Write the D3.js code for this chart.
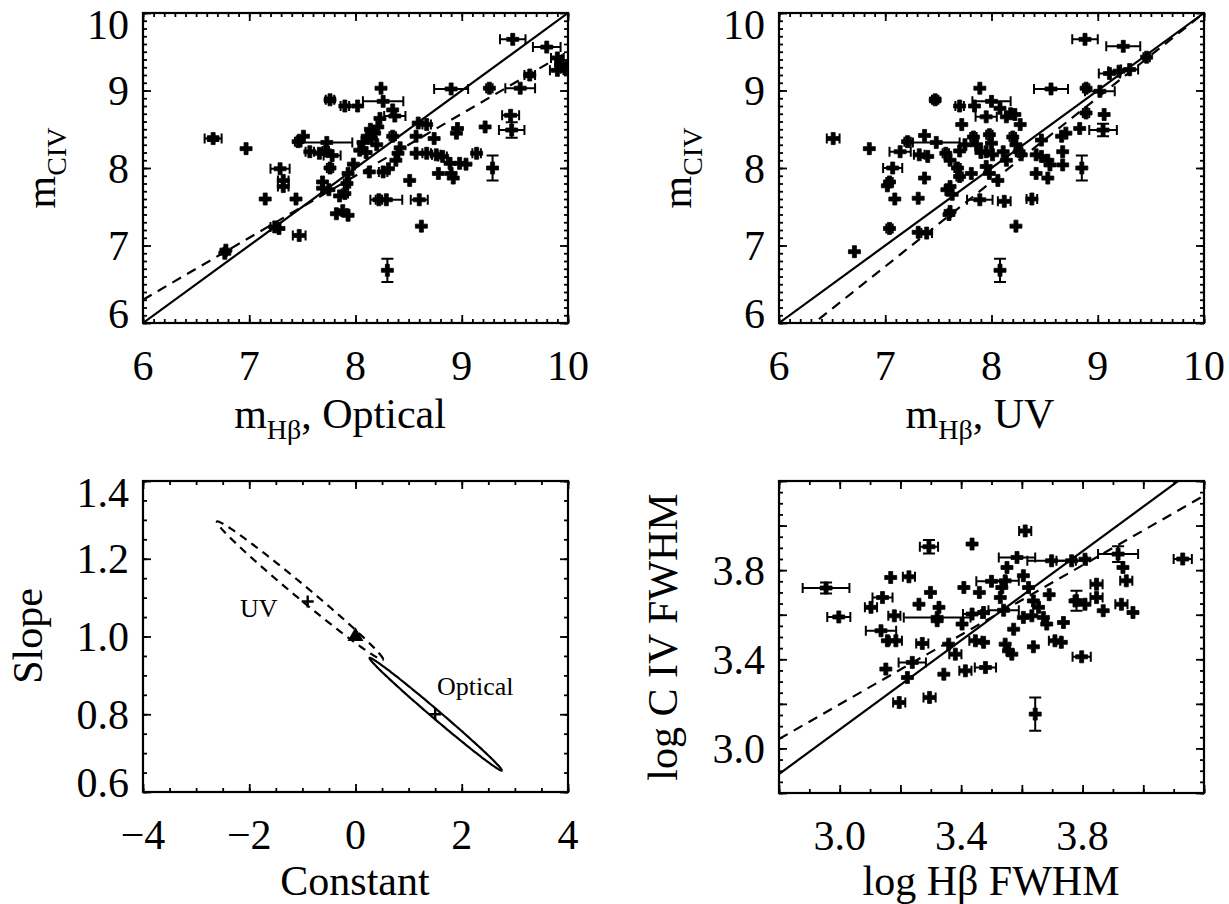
<!DOCTYPE html>
<html>
<head>
<meta charset="utf-8">
<script src="https://cdn.jsdelivr.net/npm/d3@7"></script>
<style>
  body { margin: 0; background: #fff; }
  text { font-family: "Liberation Serif", "Times New Roman", serif; fill: #000; }
</style>
</head>
<body>
<svg id="fig" width="1229" height="904"></svg>
<script>
// ---- data ----
// [x, y, xerr, yerr]
var opticalPts = [
  [9.48,9.66,0.12,0],[9.8,9.56,0.13,0],[9.64,9.2,0.05,0.03],[9.9,9.42,0.06,0],[9.93,9.33,0.05,0],
  [9.9,9.26,0.07,0],[9.97,9.28,0.04,0],[8.24,9.03,0,0],[7.76,8.88,0.04,0.03],[7.9,8.8,0.04,0],
  [8.02,8.8,0,0],[8.26,8.86,0.19,0],[8.35,8.75,0,0],[8.37,8.67,0.1,0],[8.23,8.64,0,0],
  [8.21,8.53,0,0],[8.59,8.58,0,0],[8.67,8.56,0.04,0],[8.9,9.02,0.16,0],[9.26,9.03,0.03,0],
  [9.55,9.03,0.14,0],[9.46,8.68,0.08,0],[9.22,8.53,0,0],[9.47,8.49,0.12,0.1],[8.95,8.45,0,0],
  [8.96,8.51,0,0],[8.74,8.38,0,0],[8.57,8.41,0,0],[8.35,8.41,0.03,0],[8.15,8.38,0,0],
  [8.2,8.3,0,0],[8.1,8.2,0,0],[7.51,8.41,0,0],[7.46,8.34,0.03,0],[7.73,8.33,0.24,0],
  [6.66,8.38,0.08,0.03],[6.97,8.25,0,0],[7.57,8.21,0.04,0],[7.66,8.19,0,0],[7.72,8.22,0.03,0],
  [7.78,8.16,0.08,0],[7.76,8.0,0.03,0],[7.29,7.99,0.09,0],[7.32,7.84,0.05,0],[7.32,7.76,0.05,0],
  [7.15,7.6,0,0],[7.44,7.6,0,0],[7.69,7.82,0,0],[7.69,7.74,0,0],[7.93,7.93,0,0],
  [7.92,7.8,0.03,0],[7.9,7.67,0.03,0],[7.85,7.64,0,0],[7.82,7.41,0,0],[7.93,7.39,0,0],
  [7.88,7.45,0,0],[7.24,7.24,0.04,0],[7.28,7.22,0,0],[7.47,7.13,0.06,0],[6.78,6.94,0,0],
  [6.77,6.9,0,0],[8.3,6.68,0,0.15],[8.62,7.25,0,0],[8.29,7.59,0.15,0],[8.22,7.59,0.03,0],
  [8.6,7.59,0.08,0],[8.51,7.84,0,0],[8.13,7.95,0,0],[8.26,7.95,0.04,0],[8.31,7.99,0,0],
  [8.38,8.1,0,0],[8.4,8.19,0,0],[8.42,8.26,0,0],[8.57,8.19,0,0],[8.67,8.19,0.04,0],
  [8.76,8.17,0.04,0],[8.82,8.15,0.04,0],[8.89,8.06,0,0],[8.98,8.06,0,0],[9.04,8.05,0,0],
  [9.14,8.19,0.04,0],[8.78,7.93,0,0],[8.92,7.87,0,0],[8.9,7.93,0,0],[9.29,8.0,0,0.16],
  [8.04,8.23,0,0],[8.07,8.33,0,0],[8.11,8.41,0,0],[8.14,8.5,0,0],[8.18,8.45,0,0],
  [7.98,8.05,0,0],[7.75,7.72,0,0]
];
var uvPts = [
  [8.88,9.66,0.12,0],[9.24,9.57,0.16,0],[7.89,9.03,0,0],[7.47,8.88,0.03,0.03],[7.7,8.8,0.04,0],
  [7.84,8.8,0,0],[8.0,8.86,0.18,0],[8.08,8.77,0,0],[8.14,8.66,0,0],[8.18,8.7,0,0],
  [7.95,8.66,0.1,0],[8.22,8.69,0,0],[8.27,8.56,0,0],[7.72,8.56,0,0],[8.56,9.02,0.16,0],
  [8.89,9.03,0.03,0],[9.11,9.22,0.1,0],[9.2,9.25,0.1,0],[9.3,9.27,0.08,0],[9.46,9.43,0.03,0],
  [9.02,8.99,0.14,0],[8.89,8.71,0.03,0],[9.06,8.69,0,0],[9.05,8.49,0.13,0.08],[8.83,8.51,0,0],
  [8.7,8.45,0,0],[8.66,8.41,0,0],[8.47,8.36,0,0],[8.67,8.21,0,0],[8.67,8.04,0,0],
  [8.85,8.0,0,0.16],[8.42,8.17,0,0],[8.47,8.15,0,0],[8.53,8.1,0,0],[8.55,8.04,0,0],
  [8.42,7.93,0,0],[8.53,7.87,0,0],[8.38,7.6,0.05,0],[8.23,7.25,0,0],[8.08,6.68,0,0.15],
  [7.89,7.59,0.12,0],[8.12,7.57,0.06,0],[8.06,7.84,0,0],[7.95,8.02,0,0],[7.98,7.93,0,0],
  [7.81,7.93,0,0],[7.68,8.0,0.03,0],[7.7,7.89,0.03,0],[7.61,7.76,0,0],[7.58,7.72,0,0],
  [7.63,7.66,0,0],[7.61,7.44,0,0],[7.6,7.4,0,0],[7.39,7.16,0.05,0],[7.31,7.17,0,0],
  [7.04,7.22,0.03,0],[6.71,6.92,0,0],[6.51,8.38,0.06,0],[6.85,8.25,0,0],[7.07,8.0,0.09,0],
  [7.04,7.82,0.03,0],[7.02,7.77,0,0],[7.09,7.6,0,0],[7.31,7.61,0,0],[7.37,7.87,0,0],
  [7.21,8.34,0.03,0],[7.37,8.42,0,0],[7.48,8.33,0.22,0],[7.14,8.21,0.1,0],[7.32,8.17,0.05,0],
  [7.4,8.15,0,0],[7.57,8.19,0.03,0],[7.61,8.1,0,0],[7.83,8.4,0.03,0],[7.86,8.3,0,0],
  [7.9,8.2,0,0],[7.98,8.43,0.03,0],[8.0,8.32,0,0],[7.95,8.21,0,0],[8.01,8.17,0,0],
  [8.11,8.21,0,0],[8.14,8.1,0,0],[8.2,8.4,0.03,0],[8.23,8.3,0,0],[8.26,8.21,0.03,0],
  [8.28,8.17,0,0],[7.75,8.3,0,0],[7.7,8.22,0,0]
];
var fwhmPts = [
  [2.955,3.72,0.077,0.025],[2.997,3.59,0.038,0],[3.294,3.905,0.03,0.03],[3.168,3.767,0,0],[3.228,3.77,0.02,0],
  [3.141,3.677,0.033,0],[3.103,3.633,0.02,0],[3.136,3.528,0.05,0],[3.185,3.483,0.02,0],[3.157,3.483,0,0],
  [3.18,3.595,0.02,0],[3.321,3.588,0.11,0],[3.261,3.647,0,0],[3.299,3.7,0,0],[3.327,3.633,0,0],
  [3.321,3.573,0,0],[3.272,3.471,0.02,0],[3.152,3.356,0,0],[3.239,3.386,0.045,0],[3.223,3.318,0,0],
  [3.196,3.206,0.02,0],[3.296,3.229,0.02,0],[3.343,3.333,0,0],[3.414,3.348,0.02,0],[3.48,3.363,0.035,0],
  [3.409,3.722,0,0],[3.436,3.917,0,0],[3.611,3.976,0.02,0],[3.584,3.857,0.06,0],[3.551,3.812,0,0],
  [3.545,3.752,0.045,0],[3.605,3.775,0,0],[3.622,3.722,0,0],[3.698,3.842,0.08,0],[3.764,3.842,0.05,0],
  [3.808,3.849,0,0],[3.78,3.663,0,0.045],[3.917,3.872,0.066,0.035],[3.933,3.812,0,0],[3.944,3.752,0.02,0],
  [3.846,3.737,0.02,0],[3.846,3.677,0.02,0],[3.808,3.647,0,0],[3.775,3.662,0,0],[3.868,3.618,0,0],
  [3.928,3.647,0.02,0],[3.966,3.61,0,0],[3.737,3.565,0,0],[3.709,3.483,0.02,0],[3.73,3.476,0,0],
  [3.797,3.411,0.03,0],[3.638,3.456,0,0],[3.573,3.535,0,0],[3.605,3.588,0,0],[3.633,3.595,0,0],
  [3.671,3.588,0,0],[3.682,3.558,0,0],[3.638,3.662,0,0],[3.655,3.633,0,0],[3.69,3.69,0,0],
  [3.545,3.468,0,0],[3.556,3.438,0,0],[3.567,3.423,0,0],[3.644,3.154,0,0.075],[3.381,3.423,0.02,0],
  [3.359,3.468,0,0],[3.403,3.558,0,0],[3.436,3.603,0.03,0],[3.474,3.61,0,0],[3.447,3.483,0.02,0],
  [3.474,3.476,0,0],[3.534,3.722,0,0],[3.529,3.677,0,0],[3.5,3.75,0.05,0],[3.46,3.7,0,0],
  [3.54,3.62,0.05,0],[4.13,3.85,0.03,0]
];

// fits: [intercept, slope]
var oneToOne = [0, 1];
var opticalFit = [1.5, 0.8];
var uvFit = [-0.9, 1.09];
var fwhmSolid = [0.085, 1.0];
var fwhmDashed = [0.858, 0.78];

// confidence ellipses in (constant, slope): [c0, m0, sigC, sigM, rho]
var opticalEllipse = [1.51, 0.80, 1.245, 0.145, -0.995];
var uvEllipse = [-1.045, 1.118, 1.565, 0.178, -0.992];
var bestPts = [[-0.9, 1.09, "UV"], [1.5, 0.8, "Optical"]];
var refPoint = [0, 1.0];

// tick labels
var massTicks = [6, 7, 8, 9, 10];
var constTicks = [-4, -2, 0, 2, 4];
var slopeTicks = [0.6, 0.8, 1.0, 1.2, 1.4];
var fwhmTicks = [3.0, 3.4, 3.8];

var svg = d3.select("#fig");
var clipN = 0;

function steps(a, b, s) {
  return d3.range(0, Math.round((b - a) / s) + 1).map(function (i) { return +(a + i * s).toFixed(4); });
}

function makePanel(box, cfg) {
  var x = d3.scaleLinear().domain(cfg.xDomain).range([box.x0, box.x1]);
  var y = d3.scaleLinear().domain(cfg.yDomain).range([box.y1, box.y0]);
  var g = svg.append("g");
  var id = "clip" + (clipN++);
  g.append("clipPath").attr("id", id).append("rect")
    .attr("x", box.x0).attr("y", box.y0)
    .attr("width", box.x1 - box.x0).attr("height", box.y1 - box.y0);
  var plot = g.append("g").attr("clip-path", "url(#" + id + ")");

  // ticks on all four sides, pointing inward
  var sides = [
    [d3.axisBottom(x), "translate(0," + box.y1 + ")", cfg.xMajor, cfg.xMinor],
    [d3.axisTop(x), "translate(0," + box.y0 + ")", cfg.xMajor, cfg.xMinor],
    [d3.axisLeft(y), "translate(" + box.x0 + ",0)", cfg.yMajor, cfg.yMinor],
    [d3.axisRight(y), "translate(" + box.x1 + ",0)", cfg.yMajor, cfg.yMinor]
  ];
  sides.forEach(function (s) {
    [[s[3], -4], [s[2], -8]].forEach(function (t) {
      var ax = g.append("g").attr("transform", s[1])
        .call(s[0].tickValues(t[0]).tickSize(t[1]).tickFormat(""));
      ax.select(".domain").remove();
      ax.selectAll("line").attr("stroke-width", 1.8);
    });
  });
  g.append("rect")
    .attr("x", box.x0).attr("y", box.y0)
    .attr("width", box.x1 - box.x0).attr("height", box.y1 - box.y0)
    .attr("fill", "none").attr("stroke", "#000").attr("stroke-width", 2.2);

  // tick labels
  g.selectAll(null).data(cfg.xLabels).enter().append("text")
    .attr("x", function (d) { return x(d); })
    .attr("y", box.y1 + 57)
    .attr("text-anchor", "middle").attr("font-size", 42)
    .text(cfg.xFmt);
  g.selectAll(null).data(cfg.yLabels).enter().append("text")
    .attr("x", box.x0 - 14)
    .attr("y", function (d) {
      return Math.max(box.y0 + 11, Math.min(box.y1 - 10, y(d)));
    })
    .attr("dy", "0.35em")
    .attr("text-anchor", "end").attr("font-size", 42)
    .text(cfg.yFmt);

  return { x: x, y: y, g: g, plot: plot, box: box };
}

function title(parent, px, py, rot, parts) {
  var t = parent.append("text")
    .attr("transform", "translate(" + px + "," + py + ")" + (rot ? " rotate(-90)" : ""))
    .attr("text-anchor", "middle").attr("font-size", 42);
  var low = false;
  parts.forEach(function (p) {
    var sp = t.append("tspan").text(p[0]);
    if (p[1] && !low) { sp.attr("font-size", 28).attr("dy", 11); low = true; }
    else if (!p[1] && low) { sp.attr("dy", -11); low = false; }
  });
}

function fitLine(P, fit, dashed) {
  var xs = P.x.domain();
  P.plot.append("line")
    .attr("x1", P.x(xs[0])).attr("y1", P.y(fit[0] + fit[1] * xs[0]))
    .attr("x2", P.x(xs[1])).attr("y2", P.y(fit[0] + fit[1] * xs[1]))
    .attr("stroke", "#000").attr("stroke-width", 2.2)
    .attr("stroke-dasharray", dashed ? "10,7" : null);
}

function scatter(P, pts) {
  var eb = P.plot.append("g").attr("stroke", "#000").attr("stroke-width", 2).attr("fill", "none");
  pts.forEach(function (d) {
    var cx = P.x(d[0]), cy = P.y(d[1]);
    if (d[2] > 0) {
      var a = P.x(d[0] - d[2]), b = P.x(d[0] + d[2]);
      eb.append("path").attr("d",
        "M" + a + "," + cy + "H" + b +
        "M" + a + "," + (cy - 5) + "V" + (cy + 5) +
        "M" + b + "," + (cy - 5) + "V" + (cy + 5));
    }
    if (d[3] > 0) {
      var u = P.y(d[1] + d[3]), l = P.y(d[1] - d[3]);
      eb.append("path").attr("d",
        "M" + cx + "," + u + "V" + l +
        "M" + (cx - 6) + "," + u + "H" + (cx + 6) +
        "M" + (cx - 6) + "," + l + "H" + (cx + 6));
    }
  });
  P.plot.selectAll(null).data(pts).enter().append("path")
    .attr("d", d3.symbol(d3.symbolCross, 80))
    .attr("transform", function (d) { return "translate(" + P.x(d[0]) + "," + P.y(d[1]) + ")"; })
    .attr("fill", "#000").attr("stroke", "#000").attr("stroke-width", 0.8)
    .attr("stroke-linejoin", "round");
}

function ellipse(P, e, dashed) {
  var ring = d3.range(0, 361, 2).map(function (deg) {
    var t = deg * Math.PI / 180;
    var c = e[0] + e[2] * Math.cos(t);
    var m = e[1] + e[3] * (e[4] * Math.cos(t) + Math.sqrt(1 - e[4] * e[4]) * Math.sin(t));
    return [P.x(c), P.y(m)];
  });
  P.plot.append("path").attr("d", d3.line()(ring))
    .attr("fill", "none").attr("stroke", "#000").attr("stroke-width", 2.2)
    .attr("stroke-dasharray", dashed ? "8,6" : null);
}

var fmtInt = d3.format("d"), fmt1 = d3.format(".1f");

// ---- top left: optical ----
var p1 = makePanel({ x0: 143, x1: 568, y0: 13, y1: 323 }, {
  xDomain: [6, 10], yDomain: [6, 10],
  xMajor: steps(6, 10, 1), xMinor: steps(6, 10, 0.1),
  yMajor: steps(6, 10, 1), yMinor: steps(6, 10, 0.1),
  xLabels: massTicks, yLabels: massTicks, xFmt: fmtInt, yFmt: fmtInt
});
fitLine(p1, oneToOne, false);
fitLine(p1, opticalFit, true);
scatter(p1, opticalPts);
title(svg, 340, 428, false, [["m"], ["Hβ", 1], [", Optical"]]);
title(svg, 55, 168, true, [["m"], ["CIV", 1]]);

// ---- top right: UV ----
var p2 = makePanel({ x0: 779, x1: 1204, y0: 13, y1: 323 }, {
  xDomain: [6, 10], yDomain: [6, 10],
  xMajor: steps(6, 10, 1), xMinor: steps(6, 10, 0.1),
  yMajor: steps(6, 10, 1), yMinor: steps(6, 10, 0.1),
  xLabels: massTicks, yLabels: massTicks, xFmt: fmtInt, yFmt: fmtInt
});
fitLine(p2, oneToOne, false);
fitLine(p2, uvFit, true);
scatter(p2, uvPts);
title(svg, 980, 428, false, [["m"], ["Hβ", 1], [", UV"]]);
title(svg, 691, 168, true, [["m"], ["CIV", 1]]);

// ---- bottom left: slope vs constant ----
var p3 = makePanel({ x0: 143, x1: 568, y0: 481, y1: 792 }, {
  xDomain: [-4, 4], yDomain: [0.6, 1.4],
  xMajor: steps(-4, 4, 2), xMinor: steps(-4, 4, 0.5),
  yMajor: steps(0.6, 1.4, 0.2), yMinor: steps(0.6, 1.4, 0.05),
  xLabels: constTicks, yLabels: slopeTicks, xFmt: fmtInt, yFmt: fmt1
});
ellipse(p3, uvEllipse, true);
ellipse(p3, opticalEllipse, false);
p3.plot.selectAll(null).data(bestPts).enter().append("path")
  .attr("d", d3.symbol(d3.symbolCross, 0).type({ draw: function (ctx) {
    ctx.moveTo(-6, 0); ctx.lineTo(6, 0); ctx.moveTo(0, -6); ctx.lineTo(0, 6);
  } }))
  .attr("transform", function (d) { return "translate(" + p3.x(d[0]) + "," + p3.y(d[1]) + ")"; })
  .attr("stroke", "#000").attr("stroke-width", 2.4).attr("fill", "none");
p3.plot.append("path")
  .attr("d", d3.symbol(d3.symbolTriangle, 110))
  .attr("transform", "translate(" + p3.x(refPoint[0]) + "," + p3.y(refPoint[1]) + ")")
  .attr("fill", "#000");
p3.g.append("text").attr("x", 240).attr("y", 617).attr("font-size", 26).text("UV");
p3.g.append("text").attr("x", 437).attr("y", 695).attr("font-size", 26).text("Optical");
title(svg, 355, 895, false, [["Constant"]]);
title(svg, 42, 636, true, [["Slope"]]);

// ---- bottom right: FWHM ----
var p4 = makePanel({ x0: 779, x1: 1204, y0: 481, y1: 793 }, {
  xDomain: [2.8, 4.2], yDomain: [2.8, 4.2],
  xMajor: steps(2.8, 4.2, 0.2), xMinor: steps(2.8, 4.2, 0.1),
  yMajor: steps(2.8, 4.2, 0.2), yMinor: steps(2.8, 4.2, 0.05),
  xLabels: fwhmTicks, yLabels: fwhmTicks, xFmt: fmt1, yFmt: fmt1
});
fitLine(p4, fwhmSolid, false);
fitLine(p4, fwhmDashed, true);
scatter(p4, fwhmPts);
title(svg, 991, 895, false, [["log Hβ FWHM"]]);
title(svg, 677, 637, true, [["log C IV FWHM"]]);
</script>
</body>
</html>
